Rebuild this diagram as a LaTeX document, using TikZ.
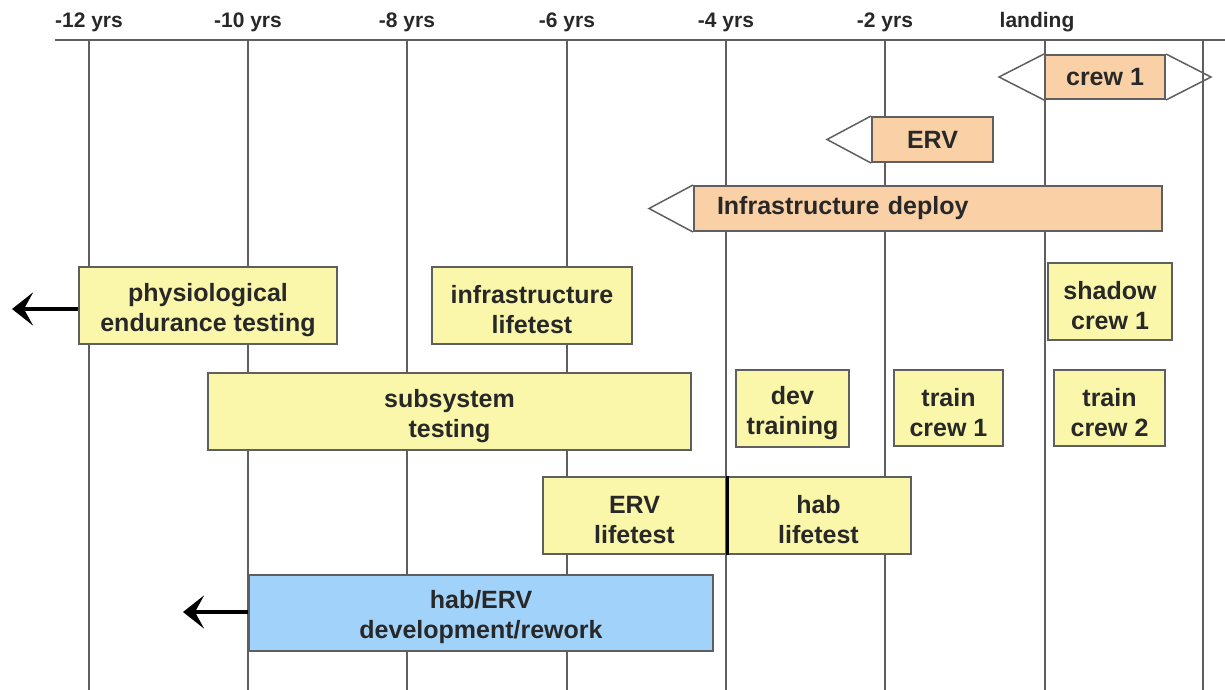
\documentclass[tikz,border=0pt]{standalone}
\usepackage{fontspec}
\setmainfont{Liberation Sans}
\usetikzlibrary{arrows.meta}

\definecolor{taskyellow}{RGB}{250,247,170}
\definecolor{phaseorange}{RGB}{250,208,166}
\definecolor{devblue}{RGB}{160,210,250}
\definecolor{gridgray}{RGB}{95,95,95}
\definecolor{inkgray}{RGB}{40,40,40}

% a little headroom so two-line labels sit a bit lower in their boxes
\newcommand{\headroom}{\rule{0pt}{27pt}}

\begin{document}
\begin{tikzpicture}[x=1pt, y=-1pt]

  \tikzstyle{yrline}=[draw=gridgray, line width=1.5pt]
  \tikzstyle{yrlabel}=[text=inkgray, font=\bfseries\fontsize{21}{25}\selectfont]
  \tikzstyle{bar}=[draw=gridgray, line width=2pt, align=center, inner sep=0pt,
    text=inkgray, font=\bfseries\fontsize{25}{30}\selectfont]
  \tikzstyle{task}=[bar, fill=taskyellow]
  \tikzstyle{phase}=[bar, fill=phaseorange]
  \tikzstyle{devbox}=[bar, fill=devblue]
  \tikzstyle{tail}=[draw=gridgray, line width=1.5pt, line join=miter]
  \tikzstyle{back}=[line width=3.5pt, -{Stealth[length=21pt, width=33pt, inset=9pt]}]

  \useasboundingbox (0,0) rectangle (1225,690);

  % time axis
  \draw [gridgray, line width=2.5pt] (55,40) -- (1225,40);
  \foreach \x/\lab [count=\i] in {89/-12 yrs, 248/-10 yrs, 407/-8 yrs, 567/-6 yrs, 726/-4 yrs, 885/-2 yrs} {
    \node [yrlabel] (yr-\i) at (\x,22) {\lab};
    \draw [yrline] (\x,40) -- (\x,690);
  }
  \node [yrlabel] (yr-land) at (1037,22) {landing};
  \draw [yrline] (1045,40) -- (1045,690);
  \draw [yrline] (1203,40) -- (1203,690);

  % flight phases
  \node [phase, minimum width=120, minimum height=44] (crew) at (1105,77) {crew 1};
  \draw [tail] (crew.north west) -- ([xshift=-45pt]crew.west) -- (crew.south west);
  \draw [tail] (crew.north east) -- ([xshift=45pt]crew.east) -- (crew.south east);

  \node [phase, minimum width=121, minimum height=45] (erv) at (932.5,139.5) {ERV};
  \draw [tail] (erv.north west) -- ([xshift=-44pt]erv.west) -- (erv.south west);

  \node [phase, minimum width=468, minimum height=45, text width=422, inner xsep=23pt, align=left] (deploy) at (928,208.5) {Infrastructure deploy};
  \draw [tail] (deploy.north west) -- ([xshift=-44pt]deploy.west) -- (deploy.south west);

  % testing and training
  \node [task, minimum width=258, minimum height=77] (physio) at (208,305.5) {\headroom physiological\\endurance testing};
  \node [task, minimum width=200, minimum height=77] (infra-life) at (532,305.5) {\headroom infrastructure\\lifetest};
  \node [task, minimum width=124, minimum height=77] (shadow) at (1110,301.5) {\headroom shadow\\crew 1};

  \node [task, minimum width=483, minimum height=77] (subsys) at (449.5,411.5) {\headroom subsystem\\testing};
  \node [task, minimum width=113, minimum height=77] (dev-train) at (792.5,408.5) {\headroom dev\\training};
  \node [task, minimum width=109, minimum height=76] (train-1) at (948.5,408) {\headroom train\\crew 1};
  \node [task, minimum width=111, minimum height=76] (train-2) at (1109.5,408) {\headroom train\\crew 2};

  \node [task, minimum width=183, minimum height=77] (erv-life) at (634.5,515.5) {\headroom ERV\\lifetest};
  \node [task, minimum width=185, minimum height=77] (hab-life) at (818.5,515.5) {\headroom hab\\lifetest};
  \draw [line width=3pt] (erv-life.north east) -- (erv-life.south east);

  \node [devbox, minimum width=464, minimum height=76] (rework) at (481,613) {\headroom hab/ERV\\development/rework};

  % earlier start
  \coordinate (physio-end) at (12,309);
  \coordinate (rework-end) at (183,612);
  \draw [back] (physio.west |- physio-end) -- (physio-end);
  \draw [back] (rework.west |- rework-end) -- (rework-end);

\end{tikzpicture}
\end{document}
